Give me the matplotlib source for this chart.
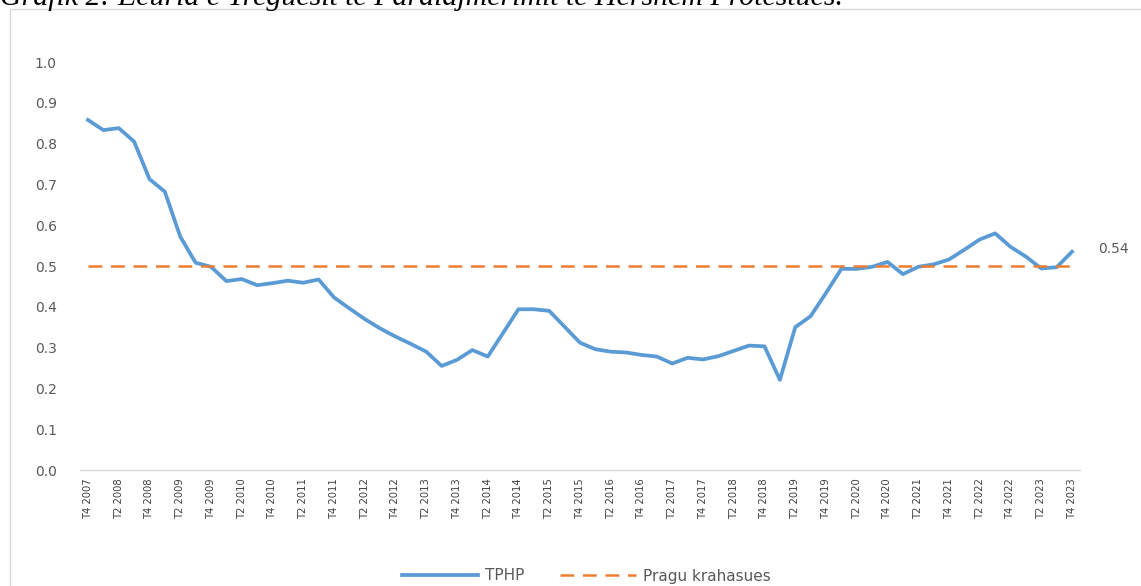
import matplotlib
matplotlib.use('Agg')
import matplotlib.pyplot as plt
from matplotlib.patches import Rectangle

# tremujoret T4 2007 ... T4 2023
quarters = ['T4 2007'] + ['T%d %d' % (q, y) for y in range(2008, 2024) for q in (1, 2, 3, 4)]

tphp = [0.858, 0.833, 0.838, 0.805, 0.713, 0.682, 0.572, 0.508, 0.498, 0.463,
        0.468, 0.453, 0.458, 0.464, 0.459, 0.467, 0.423, 0.396, 0.370, 0.347,
        0.327, 0.309, 0.290, 0.255, 0.270, 0.294, 0.278, 0.336, 0.394, 0.394,
        0.390, 0.351, 0.312, 0.296, 0.290, 0.288, 0.282, 0.278, 0.261, 0.275,
        0.271, 0.279, 0.292, 0.305, 0.303, 0.221, 0.350, 0.377, 0.434, 0.493,
        0.493, 0.498, 0.510, 0.480, 0.498, 0.504, 0.516, 0.540, 0.565, 0.580,
        0.547, 0.523, 0.494, 0.497, 0.535]
pragu = [0.5] * len(quarters)
last_label = '0.54'

title = 'Grafik 2: Ecuria e Treguesit të Paralajmërimit të Hershëm Protestues.'

blue = '#5B9BD5'
orange = '#ED7D31'
grey = '#595959'

fig = plt.figure(figsize=(11.41, 5.86), dpi=100)
fig.patch.set_facecolor('white')

# korniza e grafikut
fig.patches.append(Rectangle((10 / 1141, -0.05), 1.1, 1 - 9 / 586 + 0.05,
                             transform=fig.transFigure, fill=False,
                             edgecolor='#d9d9d9', lw=1.0))

# titulli i prere ne krye
fig.text(0.0, 1 - 5 / 586, title, family='Liberation Serif', style='italic',
         fontsize=21.5, va='baseline', ha='left', color='black')

ax = fig.add_axes([80.3 / 1141, 1 - 470 / 586, 999.4 / 1141, 408 / 586])
x = list(range(len(quarters)))
ax.plot(x, tphp, color=blue, lw=2.7, label='TPHP', solid_joinstyle='round')
ax.plot(x, pragu, color=orange, lw=1.8, dashes=(5.5, 3.5), label='Pragu krahasues')

ax.set_xlim(-0.5, len(quarters) - 0.5)
ax.set_ylim(0, 1.0)
ax.set_yticks([i / 10 for i in range(11)])
ax.set_yticklabels(['%.1f' % (i / 10) for i in range(11)])
ax.set_xticks(x[::2])
ax.set_xticklabels(quarters[::2], rotation=90, fontsize=7.2)

ax.tick_params(axis='y', length=0, pad=17, labelsize=10, labelcolor=grey)
ax.tick_params(axis='x', length=0, pad=6, labelcolor='#404040')
for s in ['top', 'right', 'left']:
    ax.spines[s].set_visible(False)
ax.spines['bottom'].set_color('#d9d9d9')
ax.spines['bottom'].set_linewidth(1.0)

ax.annotate(last_label, xy=(x[-1], tphp[-1]), xytext=(19, 2),
            textcoords='offset points', ha='left', va='center',
            fontsize=10, color=grey)

fig.legend(loc='center', bbox_to_anchor=(0.514, 1 - 576 / 586), ncol=2,
           frameon=False, fontsize=11, handlelength=5.0, handletextpad=0.45,
           columnspacing=2.3, labelcolor=grey)

fig.savefig('out.png', dpi=100)
